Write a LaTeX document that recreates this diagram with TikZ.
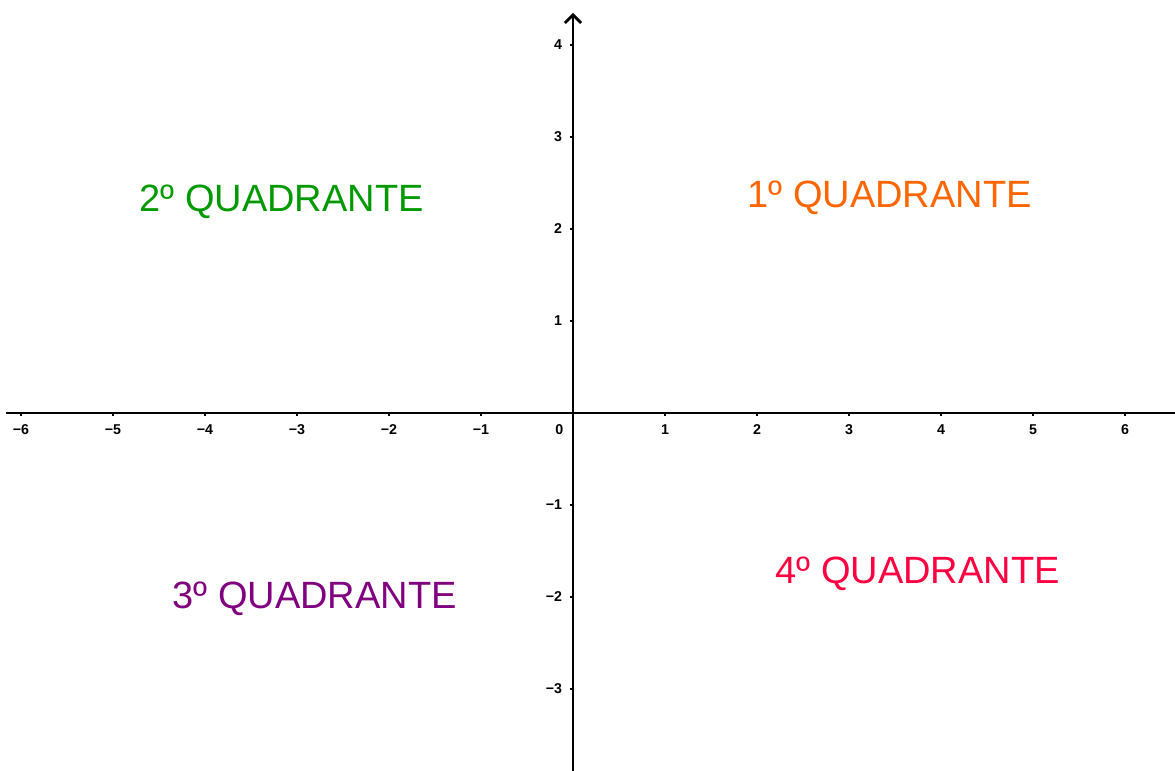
\documentclass[tikz,border=0pt]{standalone}
\usepackage{fontspec}
\setmainfont{Liberation Sans}
\usepackage{xcolor}
\usepackage{tikz}
\usetikzlibrary{arrows.meta}

\definecolor{qone}{RGB}{255,102,0}
\definecolor{qtwo}{RGB}{0,153,0}
\definecolor{qthree}{RGB}{128,0,128}
\definecolor{qfour}{RGB}{255,0,64}

\begin{document}
\begin{tikzpicture}[
    x=1cm, y=1cm,
    axis/.style={line width=0.85pt},
    yarr/.style={axis, -{Straight Barb[length=2.5pt, width=5pt, line width=0.85pt]}},
    tick/.style={line width=0.85pt},
    xlab/.style={anchor=north, inner sep=0pt, yshift=-0.08cm, font=\fontsize{4.4}{5}\selectfont\bfseries},
    ylab/.style={anchor=east, inner sep=0pt, xshift=-0.07cm, font=\fontsize{4.4}{5}\selectfont\bfseries},
    quad/.style={anchor=base west, inner sep=0pt, font=\fontsize{11.75}{14}\selectfont, text=#1},
]
    \useasboundingbox (-6.228,-3.891) rectangle (6.543,4.489);

    % axes
    \coordinate (xl) at (-6.163,0);
    \coordinate (xr) at (6.543,0);
    \coordinate (yb) at (0,-3.891);
    \coordinate (yt) at (0,4.348);
    \draw[axis] (xl) -- (xr);
    \draw[yarr] (yb) -- (yt);

    % x ticks
    \draw[tick] (-6,0) -- (-6,-0.035) node[xlab] (xm6) {−6};
    \draw[tick] (-5,0) -- (-5,-0.035) node[xlab] (xm5) {−5};
    \draw[tick] (-4,0) -- (-4,-0.035) node[xlab] (xm4) {−4};
    \draw[tick] (-3,0) -- (-3,-0.035) node[xlab] (xm3) {−3};
    \draw[tick] (-2,0) -- (-2,-0.035) node[xlab] (xm2) {−2};
    \draw[tick] (-1,0) -- (-1,-0.035) node[xlab] (xm1) {−1};
    \draw[tick] ( 1,0) -- ( 1,-0.035) node[xlab] (xp1) {1};
    \draw[tick] ( 2,0) -- ( 2,-0.035) node[xlab] (xp2) {2};
    \draw[tick] ( 3,0) -- ( 3,-0.035) node[xlab] (xp3) {3};
    \draw[tick] ( 4,0) -- ( 4,-0.035) node[xlab] (xp4) {4};
    \draw[tick] ( 5,0) -- ( 5,-0.035) node[xlab] (xp5) {5};
    \draw[tick] ( 6,0) -- ( 6,-0.035) node[xlab] (xp6) {6};
    \node[xlab, anchor=north east, xshift=-0.1cm] (orig) at (0,-0.035) {0};

    % y ticks
    \draw[tick] (0,-3) -- (-0.035,-3) node[ylab] (ym3) {−3};
    \draw[tick] (0,-2) -- (-0.035,-2) node[ylab] (ym2) {−2};
    \draw[tick] (0,-1) -- (-0.035,-1) node[ylab] (ym1) {−1};
    \draw[tick] (0, 1) -- (-0.035, 1) node[ylab] (yp1) {1};
    \draw[tick] (0, 2) -- (-0.035, 2) node[ylab] (yp2) {2};
    \draw[tick] (0, 3) -- (-0.035, 3) node[ylab] (yp3) {3};
    \draw[tick] (0, 4) -- (-0.035, 4) node[ylab] (yp4) {4};

    % quadrant labels
    \node[quad=qone]   (q1) at ( 1.891, 2.239) {1º QUADRANTE};
    \node[quad=qtwo]   (q2) at (-4.717, 2.185) {2º QUADRANTE};
    \node[quad=qthree] (q3) at (-4.359,-2.120) {3º QUADRANTE};
    \node[quad=qfour]  (q4) at ( 2.196,-1.848) {4º QUADRANTE};
\end{tikzpicture}
\end{document}
